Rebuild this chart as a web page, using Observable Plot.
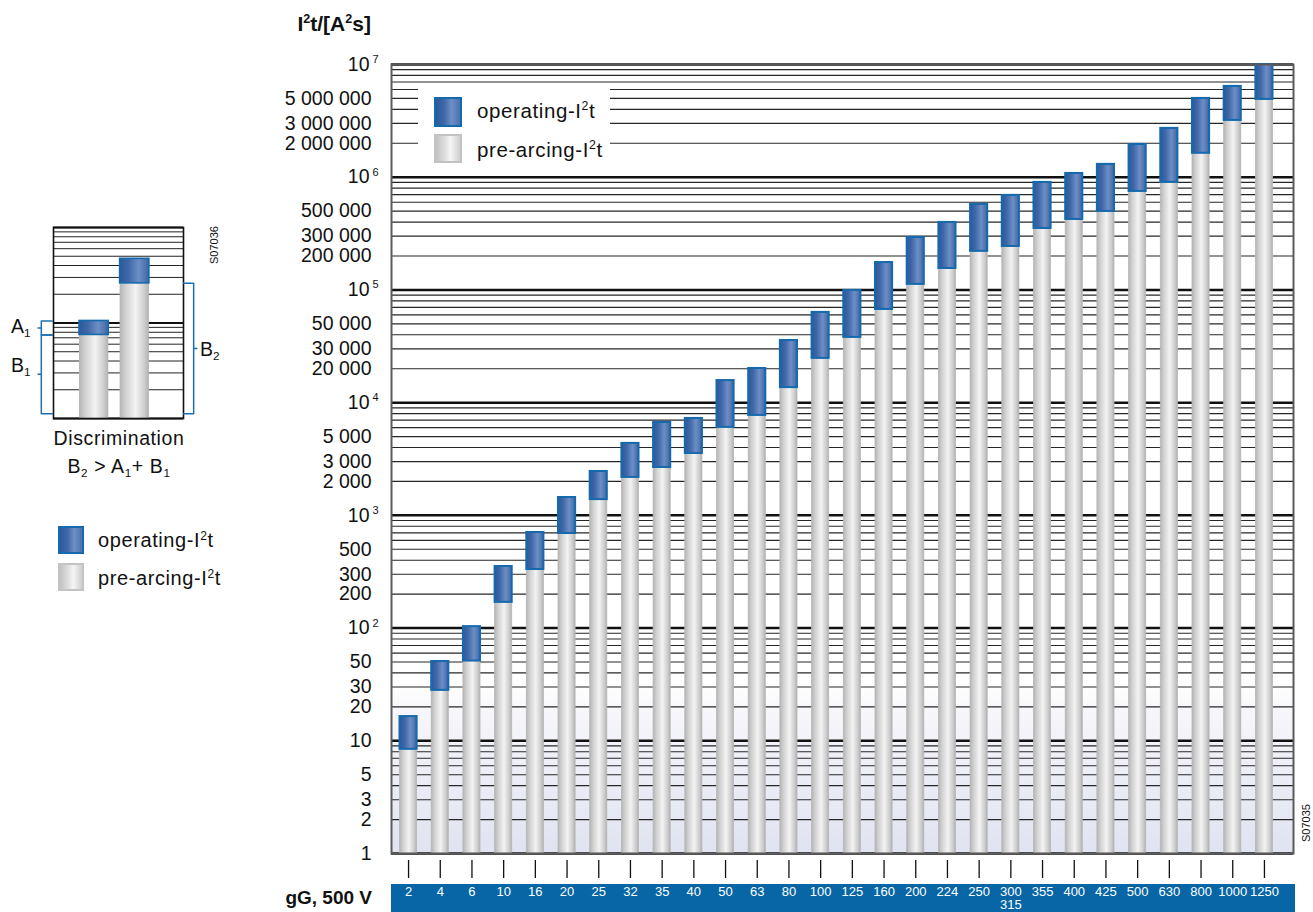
<!DOCTYPE html>
<html><head><meta charset="utf-8">
<script src="https://cdn.jsdelivr.net/npm/d3@7"></script>
<script src="https://cdn.jsdelivr.net/npm/@observablehq/plot@0.6"></script>
<style>
html,body{margin:0;padding:0;background:#fff;}
body{width:1313px;height:912px;position:relative;overflow:hidden;font-family:"Liberation Sans",Arial,Helvetica,sans-serif;color:#111;}
#main{position:absolute;left:0;top:0;z-index:1;}
#inset{position:absolute;left:0;top:210px;z-index:1;}
.band{position:absolute;left:391px;top:884px;width:904px;height:28px;background:#0866a6;z-index:0;}
.box{position:absolute;z-index:3;background:#fff;}
.sw{position:absolute;box-sizing:border-box;z-index:4;}
.sw.op{border:2px solid #1569ad;background:linear-gradient(to right,#2b5a9c 0%,#4169a8 35%,#6e8fc6 65%,#4a72ae 100%);}
.sw.pre{border:2px solid #c3c3c3;background:linear-gradient(to right,#c2c2c2 0%,#e0e0e0 40%,#f5f5f5 60%,#cfcfcf 100%);}
.t{position:absolute;line-height:1;white-space:nowrap;transform:translateY(-50%);z-index:4;}
.tc{position:absolute;line-height:1;white-space:nowrap;transform:translate(-50%,-50%);z-index:4;}
.tr{position:absolute;line-height:1;white-space:nowrap;transform:translate(-100%,-50%);z-index:4;}
.rot{position:absolute;font-size:11px;line-height:1;white-space:nowrap;transform:translate(-50%,-50%) rotate(-90deg);z-index:4;}
.lg{letter-spacing:0.6px;}
sup{font-size:0.6em;vertical-align:0.6em;line-height:0}
sub{font-size:0.6em;vertical-align:-0.3em;line-height:0}
</style>
</head><body>
<svg width="0" height="0" style="position:absolute">
  <defs>
    <linearGradient id="gGrey" x1="0" y1="0" x2="1" y2="0">
      <stop offset="0" stop-color="#b4b4b4"/>
      <stop offset="0.2" stop-color="#d0d0d0"/>
      <stop offset="0.55" stop-color="#f3f3f3"/>
      <stop offset="0.85" stop-color="#cdcdcd"/>
      <stop offset="1" stop-color="#b0b0b0"/>
    </linearGradient>
    <linearGradient id="gBlue" x1="0" y1="0" x2="1" y2="0">
      <stop offset="0" stop-color="#2a599b"/>
      <stop offset="0.3" stop-color="#3f68a8"/>
      <stop offset="0.65" stop-color="#6d8ec5"/>
      <stop offset="0.85" stop-color="#5478b3"/>
      <stop offset="1" stop-color="#3a64a4"/>
    </linearGradient>
    <linearGradient id="gBg" x1="0" y1="0" x2="0" y2="1">
      <stop offset="0" stop-color="#ffffff" stop-opacity="0"/>
      <stop offset="0.2" stop-color="#f7f7fb" stop-opacity="1"/>
      <stop offset="1" stop-color="#e0e3f0" stop-opacity="1"/>
    </linearGradient>
  </defs>
</svg>
<div class="band"></div>
<div id="main"></div>
<div id="inset"></div>

<!-- axis titles -->
<div class="tr" style="left:371px;top:23px;font-size:21px;font-weight:bold;">I<sup>2</sup>t/[A<sup>2</sup>s]</div>
<div class="tr" style="left:372px;top:897px;font-size:19px;font-weight:bold;">gG, 500 V</div>

<!-- main legend -->
<div class="box" style="left:418px;top:89px;width:192px;height:75px;"></div>
<div class="sw op" style="left:434px;top:97px;width:28px;height:30px;"></div>
<div class="sw pre" style="left:434px;top:134px;width:28px;height:29px;"></div>
<div class="t lg" style="left:477px;top:111px;font-size:20.5px;">operating-I<sup>2</sup>t</div>
<div class="t lg" style="left:477px;top:150px;font-size:20.5px;">pre-arcing-I<sup>2</sup>t</div>

<!-- left legend -->
<div class="sw op" style="left:58px;top:526px;width:26px;height:28px;"></div>
<div class="sw pre" style="left:58px;top:563px;width:26px;height:28px;"></div>
<div class="t lg" style="left:98px;top:540px;font-size:20px;">operating-I<sup>2</sup>t</div>
<div class="t lg" style="left:98px;top:578px;font-size:20px;">pre-arcing-I<sup>2</sup>t</div>

<!-- inset texts -->
<div class="t" style="left:11px;top:327px;font-size:19.5px;">A<sub>1</sub></div>
<div class="t" style="left:11px;top:366px;font-size:19.5px;">B<sub>1</sub></div>
<div class="t" style="left:200px;top:350px;font-size:19.5px;">B<sub>2</sub></div>
<div class="tc lg" style="left:119px;top:439px;font-size:19.5px;">Discrimination</div>
<div class="tc lg" style="left:119px;top:467px;font-size:19.5px;">B<sub>2</sub> &gt; A<sub>1</sub>+ B<sub>1</sub></div>
<div class="rot" style="left:214px;top:245px;">S07036</div>
<div class="rot" style="left:1306px;top:823px;">S07035</div>

<script>
// ---- data ----
const ratings = ["2","4","6","10","16","20","25","32","35","40","50","63","80","100","125","160","200","224","250","300\n315","355","400","425","500","630","800","1000","1250"];
const preArcing = [8.4, 28, 51, 169, 331, 690, 1380, 2170, 2660, 3540, 6030, 7700, 13600, 24700, 37900, 67100, 112000, 155000, 220000, 243000, 351000, 422000, 497000, 748000, 899000, 1630000, 3190000, 4900000];
const operating = [16.4, 50.5, 103, 352, 705, 1440, 2450, 4350, 6670, 7240, 15700, 20100, 35600, 63200, 99000, 175000, 292000, 397000, 574000, 690000, 899000, 1080000, 1300000, 1950000, 2710000, 5000000, 6390000, 10000000];

const yLabelValues = [1, 2, 3, 5, 10, 20, 30, 50, 200, 300, 500, 2000, 3000, 5000, 20000, 30000, 50000, 200000, 300000, 500000, 2000000, 3000000, 5000000];
const yDecadeValues = [100, 1000, 10000, 100000, 1000000, 10000000];

// inset (schematic "Discrimination" example)
const insetNames = ["F1", "F2"];
const insetPre = [7.5, 26];
const insetOp = [10.5, 47];
const insetBase = 1.12;

// ---- main chart ----
const rows = ratings.map((r, i) => ({rating: r, pre: preArcing[i], op: operating[i]}));
const gridTicks = d3.scaleLog().domain([1, 1e7]).ticks();
const isDecade = v => Math.abs(Math.log10(v) - Math.round(Math.log10(v))) < 1e-9;
const decadeLines = gridTicks.filter(isDecade);
const minorLines = gridTicks.filter(v => !isDecade(v));
const fmt = v => d3.format(",")(v).replace(/,/g, " ");
const fontFamily = "'Liberation Sans', Arial, Helvetica, sans-serif";

const main = Plot.plot({
  width: 1313, height: 912,
  marginLeft: 391, marginRight: 20, marginTop: 64, marginBottom: 59,
  style: {background: "transparent", fontFamily, color: "#111", overflow: "visible"},
  x: {type: "band", domain: ratings, range: [399.5, 1272.5], paddingInner: 0.46, paddingOuter: 0, round: false},
  y: {type: "log", domain: [1, 1e7], axis: null},
  marks: [
    Plot.rect([0], {y1: 1, y2: 40, fill: "url(#gBg)"}),
    Plot.ruleY(minorLines, {stroke: "#262626", strokeWidth: 1.15}),
    Plot.ruleY(decadeLines, {stroke: "#111", strokeWidth: 2.5}),
    Plot.barY(rows, {x: "rating", y1: 1, y2: "pre", fill: "url(#gGrey)", stroke: "#b8b8b8", strokeWidth: 0.8}),
    Plot.barY(rows, {x: "rating", y1: "pre", y2: "op", fill: "url(#gBlue)", stroke: "#1569ad", strokeWidth: 2}),
    Plot.frame({stroke: "#5a5a5a", strokeWidth: 2}),
    Plot.text(yLabelValues, {y: d => d, text: fmt, frameAnchor: "left", textAnchor: "end", dx: -20, fontSize: 19.5}),
    Plot.text(yDecadeValues, {y: d => d, text: () => "10", frameAnchor: "left", textAnchor: "end", dx: -22, fontSize: 19.5}),
    Plot.text(yDecadeValues, {y: d => d, text: d => String(Math.round(Math.log10(d))), frameAnchor: "left", textAnchor: "start", dx: -19, dy: -5, fontSize: 11}),
    Plot.axisX({tickSize: 18, dy: 7, tickFormat: () => "", label: null, strokeWidth: 1.3}),
    Plot.axisX({tickSize: 0, tickPadding: 33, fill: "white", fontSize: 13, lineHeight: 1.02, label: null})
  ]
});
document.getElementById("main").appendChild(main);

// ---- inset ----
const insetRows = insetNames.map((n, i) => ({name: n, pos: i + 1, pre: insetPre[i], op: insetOp[i]}));
const insetTicks = d3.scaleLog().domain([1, 100]).ticks();
const leftX = -0.30, leftIn = -0.03, leftNotch = -0.38;
const rightX = 3.45, rightIn = 3.2, rightNotch = 3.53;
function bracket(id, side, y1, y2) {
  const xv = side === "left" ? leftX : rightX;
  const xi = side === "left" ? leftIn : rightIn;
  const xn = side === "left" ? leftNotch : rightNotch;
  const ym = Math.sqrt(y1 * y2);
  return [
    {id, x: xi, y: y1}, {id, x: xv, y: y1}, {id, x: xv, y: ym}, {id, x: xn, y: ym},
    {id, x: xv, y: ym}, {id, x: xv, y: y2}, {id, x: xi, y: y2}
  ];
}
const brackets = [
  ...bracket("A1", "left", insetPre[0], insetOp[0]),
  ...bracket("B1", "left", insetBase, insetPre[0]),
  ...bracket("B2", "right", insetBase, insetPre[1])
];

const inset = Plot.plot({
  width: 240, height: 280,
  marginLeft: 53, marginRight: 57, marginTop: 17, marginBottom: 72,
  style: {background: "transparent", fontFamily, color: "#111", overflow: "visible"},
  x: {type: "linear", domain: [0, 3.2], axis: null},
  y: {type: "log", domain: [1, 100], axis: null},
  marks: [
    Plot.ruleY(insetTicks.filter(v => !isDecade(v)), {stroke: "#222", strokeWidth: 1}),
    Plot.ruleY(insetTicks.filter(isDecade), {stroke: "#111", strokeWidth: 2}),
    Plot.rect(insetRows, {x1: d => d.pos - 0.36, x2: d => d.pos + 0.36, y1: 1, y2: "pre", fill: "url(#gGrey)"}),
    Plot.rect(insetRows, {x1: d => d.pos - 0.36, x2: d => d.pos + 0.36, y1: "pre", y2: "op", fill: "url(#gBlue)", stroke: "#1569ad", strokeWidth: 1.6}),
    Plot.frame({stroke: "#111", strokeWidth: 1.6}),
    Plot.line(brackets, {x: "x", y: "y", z: "id", stroke: "#1b6fb2", strokeWidth: 1.5})
  ]
});
document.getElementById("inset").appendChild(inset);
</script>
</body></html>
